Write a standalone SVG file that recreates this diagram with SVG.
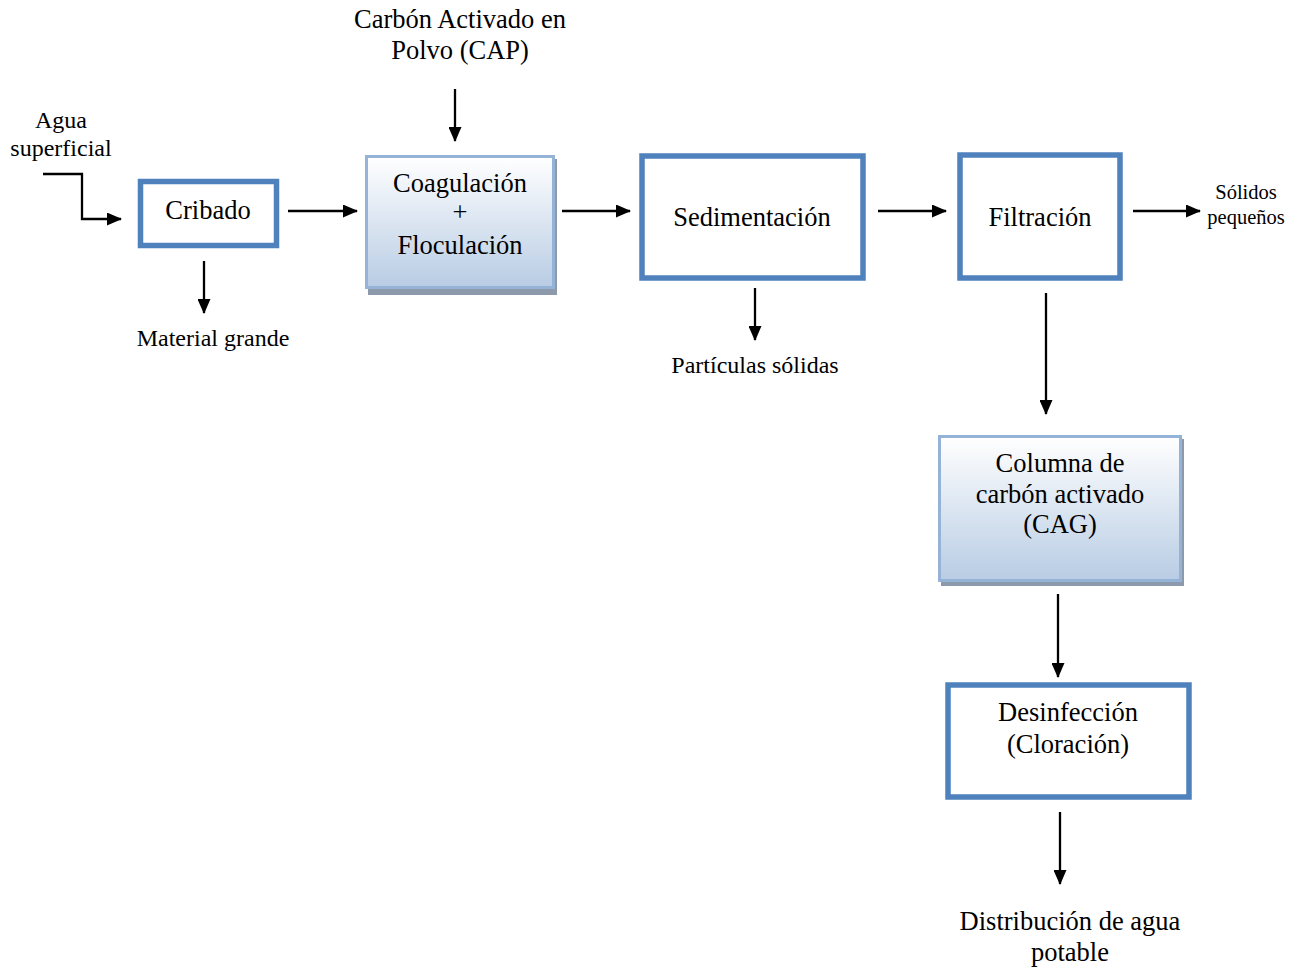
<svg xmlns="http://www.w3.org/2000/svg" width="1299" height="970" viewBox="0 0 1299 970">
  <defs>
    <style>
      text { font-family: "Liberation Serif", "Times New Roman", serif; fill: #000; text-anchor: middle; }
      .t26 { font-size: 26.5px; }
      .t24 { font-size: 24px; }
      .t21 { font-size: 20.5px; }
      .box { fill: #fff; stroke: #4f81bd; stroke-width: 5.5; }
      .soft { fill: url(#blueFade); stroke: #95b3d7; stroke-width: 3; }
      .shadow { fill: #8c9aab; }
      .conn { fill: none; stroke: #000; stroke-width: 2.3; marker-end: url(#arrow); }
    </style>
    <linearGradient id="blueFade" x1="0" y1="0" x2="0" y2="1">
      <stop offset="0" stop-color="#ffffff"/>
      <stop offset="1" stop-color="#b8cce4"/>
    </linearGradient>
    <marker id="arrow" viewBox="0 0 15 13" refX="14" refY="6.5" markerWidth="15" markerHeight="13" markerUnits="userSpaceOnUse" orient="auto">
      <path d="M0,0 L15,6.5 L0,13 Z" fill="#000"/>
    </marker>
  </defs>

  <!-- connectors -->
  <g id="connectors">
    <polyline class="conn" points="43,174 82,174 82,219 121,219"/>
    <line class="conn" x1="288" y1="211" x2="357" y2="211"/>
    <line class="conn" x1="204" y1="261" x2="204" y2="313"/>
    <line class="conn" x1="455" y1="89" x2="455" y2="141"/>
    <line class="conn" x1="562" y1="211" x2="630" y2="211"/>
    <line class="conn" x1="755" y1="288" x2="755" y2="340"/>
    <line class="conn" x1="878" y1="211" x2="946" y2="211"/>
    <line class="conn" x1="1133" y1="211" x2="1200" y2="211"/>
    <line class="conn" x1="1046" y1="293" x2="1046" y2="414"/>
    <line class="conn" x1="1058" y1="594" x2="1058" y2="677"/>
    <line class="conn" x1="1060" y1="812" x2="1060" y2="884"/>
  </g>

  <!-- free labels -->
  <g id="cap-label">
    <text class="t26" x="460" y="28">Carbón Activado en</text>
    <text class="t26" x="460" y="59">Polvo (CAP)</text>
  </g>
  <g id="agua-label">
    <text class="t24" x="61" y="128">Agua</text>
    <text class="t24" x="61" y="156">superficial</text>
  </g>
  <g id="material-label">
    <text class="t24" x="213" y="346">Material grande</text>
  </g>
  <g id="particulas-label">
    <text class="t24" x="755" y="373">Partículas sólidas</text>
  </g>
  <g id="solidos-label">
    <text class="t21" x="1246" y="199">Sólidos</text>
    <text class="t21" x="1246" y="224">pequeños</text>
  </g>
  <g id="distribucion-label">
    <text class="t26" x="1070" y="930">Distribución de agua</text>
    <text class="t26" x="1070" y="961">potable</text>
  </g>

  <!-- process nodes -->
  <g id="cribado">
    <rect class="box" x="140.5" y="181.5" width="136" height="64"/>
    <text class="t26" x="208" y="219">Cribado</text>
  </g>
  <g id="coagulacion">
    <rect class="shadow" x="368" y="159" width="189" height="136"/>
    <rect class="soft" x="366.5" y="156.5" width="187" height="131"/>
    <text class="t26" x="460" y="192">Coagulación</text>
    <text class="t26" x="460" y="221">+</text>
    <text class="t26" x="460" y="254">Floculación</text>
  </g>
  <g id="sedimentacion">
    <rect class="box" x="642" y="156" width="221" height="122"/>
    <text class="t26" x="752" y="226">Sedimentación</text>
  </g>
  <g id="filtracion">
    <rect class="box" x="960" y="155" width="160" height="123"/>
    <text class="t26" x="1040" y="226">Filtración</text>
  </g>
  <g id="cag">
    <rect class="shadow" x="941" y="439" width="243" height="147"/>
    <rect class="soft" x="939.5" y="436.5" width="241" height="144"/>
    <text class="t26" x="1060" y="472">Columna de</text>
    <text class="t26" x="1060" y="503">carbón activado</text>
    <text class="t26" x="1060" y="533">(CAG)</text>
  </g>
  <g id="desinfeccion">
    <rect class="box" x="948" y="685" width="241" height="112"/>
    <text class="t26" x="1068" y="721">Desinfección</text>
    <text class="t26" x="1068" y="753">(Cloración)</text>
  </g>
</svg>
